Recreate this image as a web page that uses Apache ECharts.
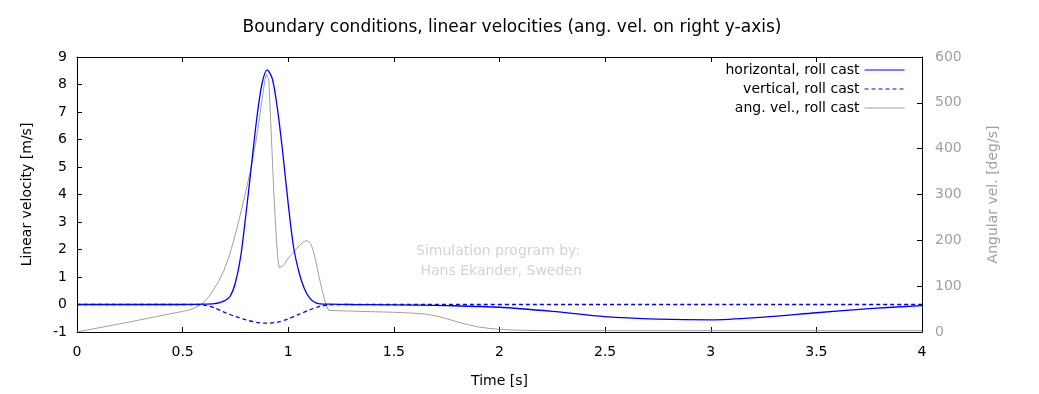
<!DOCTYPE html>
<html>
<head>
<meta charset="utf-8">
<script src="https://cdn.jsdelivr.net/npm/echarts@6/dist/echarts.min.js"></script>
<style>html,body{margin:0;padding:0;background:#fff}#c{width:1039px;height:394px}</style>
</head>
<body>
<div id="c"></div>
<script>
// ---- Data ----
const titleText = 'Boundary conditions, linear velocities (ang. vel. on right y-axis)';
const seriesNames = ['horizontal, roll cast', 'vertical, roll cast', 'ang. vel., roll cast'];

// horizontal linear velocity [m/s]
const tHor = [0, 0.5, 0.6, 0.65, 0.68, 0.7, 0.725, 0.75, 0.775, 0.8, 0.825, 0.85, 0.875, 0.9, 0.925, 0.95, 0.975, 1.0, 1.025, 1.05, 1.075, 1.1, 1.125, 1.15, 1.2, 1.3, 1.5, 1.75, 2.0, 2.25, 2.5, 2.75, 3.0, 3.25, 3.5, 3.75, 4.0];
const vHor = [0, 0, 0.01, 0.03, 0.08, 0.14, 0.3, 0.8, 1.75, 3.3, 5.0, 6.7, 8.0, 8.53, 8.2, 7.05, 5.45, 3.65, 2.1, 1.2, 0.6, 0.25, 0.08, 0.02, 0.01, 0, -0.01, -0.04, -0.1, -0.25, -0.44, -0.53, -0.56, -0.46, -0.3, -0.15, -0.04];

// vertical linear velocity [m/s]
const tVer = [0, 0.55, 0.6, 0.65, 0.7, 0.75, 0.8, 0.85, 0.9, 0.95, 1.0, 1.05, 1.1, 1.15, 1.2, 1.3, 4.0];
const vVer = [0, 0, -0.02, -0.12, -0.29, -0.44, -0.56, -0.65, -0.68, -0.64, -0.52, -0.36, -0.2, -0.07, -0.01, 0, 0];

// angular velocity [deg/s]
const tAng = [0, 0.25, 0.5, 0.53, 0.55, 0.58, 0.6, 0.62, 0.646, 0.67, 0.695, 0.72, 0.745, 0.77, 0.795, 0.82, 0.845, 0.865, 0.88, 0.89, 0.896, 0.902, 0.908, 0.915, 0.923, 0.93, 0.938, 0.945, 0.951, 0.957, 0.965, 0.98, 0.994, 1.015, 1.033, 1.06, 1.081, 1.095, 1.105, 1.112, 1.12, 1.128, 1.136, 1.148, 1.16, 1.172, 1.183, 1.192, 1.2, 1.5, 1.6, 1.65, 1.7, 1.75, 1.8, 1.85, 1.9, 1.95, 2.0, 2.05, 2.13, 2.3, 4.0];
const vAng = [0, 22, 45, 48, 51, 58, 65, 75, 92, 110, 134, 165, 205, 250, 298, 350, 410, 470, 520, 550, 563, 565, 550, 480, 397, 320, 250, 195, 160, 140, 139, 146, 157, 169, 179, 192, 199, 198, 193, 186, 175, 160, 142, 116, 92, 70, 55, 47, 44, 43, 41, 39, 35, 29, 22, 16, 11, 8, 6, 4.5, 3.5, 3, 3];

const watermark = 'Simulation program by:\n Hans Ekander, Sweden';
const xName = 'Time [s]';
const yName = 'Linear velocity [m/s]';
const y2Name = 'Angular vel. [deg/s]';

// ---- Build ----
const zip = (t, v) => t.map((x, i) => [x, v[i]]);
const FONT = 'DejaVu Sans';
const BLUE = '#0000ff';
const GRAY = '#a0a0a0';

const chart = echarts.init(document.getElementById('c'), null, {renderer: 'canvas'});

function legendFor(i, top) {
  return {
    data: [seriesNames[i]],
    right: 134, top: top, orient: 'horizontal', align: 'right',
    itemWidth: 40, itemHeight: 12, padding: 0,
    selectedMode: false,
    itemStyle: {opacity: 0},
    lineStyle: {width: 1},
    textStyle: {fontFamily: FONT, fontSize: 14, color: '#000'}
  };
}

const option = {
  animation: false,
  backgroundColor: '#fff',
  title: {
    text: titleText, left: 512, top: 19, textAlign: 'center', padding: 0,
    textStyle: {fontFamily: FONT, fontSize: 17, fontWeight: 'normal', color: '#000'}
  },
  legend: [legendFor(0, 63), legendFor(1, 82), legendFor(2, 101)],
  grid: {left: 77, right: 117, top: 57, bottom: 62, containLabel: false},
  xAxis: [{
    type: 'value', min: 0, max: 4, interval: 0.5, position: 'bottom',
    name: xName, nameLocation: 'middle', nameGap: 42,
    nameTextStyle: {fontFamily: FONT, fontSize: 14, color: '#000'},
    axisLine: {show: true, onZero: false, lineStyle: {color: '#000', width: 1}},
    axisTick: {show: true, inside: true, length: 5, lineStyle: {color: '#000'}},
    axisLabel: {fontFamily: FONT, fontSize: 14, color: '#000', margin: 13},
    splitLine: {show: false}
  }, {
    type: 'value', min: 0, max: 4, interval: 0.5, position: 'top',
    axisLine: {show: true, onZero: false, lineStyle: {color: '#000', width: 1}},
    axisTick: {show: true, inside: true, length: 5, lineStyle: {color: '#000'}},
    axisLabel: {show: false},
    splitLine: {show: false}
  }],
  yAxis: [{
    type: 'value', min: -1, max: 9, interval: 1, position: 'left',
    name: yName, nameLocation: 'middle', nameGap: 43,
    nameTextStyle: {fontFamily: FONT, fontSize: 14, color: '#000'},
    axisLine: {show: true, onZero: false, lineStyle: {color: '#000', width: 1}},
    axisTick: {show: true, inside: true, length: 5, lineStyle: {color: '#000'}},
    axisLabel: {fontFamily: FONT, fontSize: 14, color: '#000', margin: 10},
    splitLine: {show: false}
  }, {
    type: 'value', min: 0, max: 600, interval: 100, position: 'right',
    name: y2Name, nameLocation: 'middle', nameGap: 64,
    nameTextStyle: {fontFamily: FONT, fontSize: 14, color: GRAY},
    axisLine: {show: true, onZero: false, lineStyle: {color: '#000', width: 1}},
    axisTick: {show: true, inside: true, length: 5, lineStyle: {color: '#000'}},
    axisLabel: {fontFamily: FONT, fontSize: 14, color: GRAY, margin: 13},
    splitLine: {show: false}
  }],
  graphic: [{
    type: 'text', left: 416, top: 241, silent: true,
    style: {text: watermark, fill: '#d3d3d3', font: '14px "DejaVu Sans"', lineHeight: 20}
  }],
  series: [{
    name: seriesNames[0], type: 'line', xAxisIndex: 0, yAxisIndex: 0,
    data: zip(tHor, vHor), showSymbol: false, symbol: 'none', smooth: 0.3,
    lineStyle: {color: BLUE, width: 1.3}, itemStyle: {color: BLUE}, z: 3
  }, {
    name: seriesNames[1], type: 'line', xAxisIndex: 0, yAxisIndex: 0,
    data: zip(tVer, vVer), showSymbol: false, symbol: 'none', smooth: 0.3,
    lineStyle: {color: BLUE, width: 1.3, type: [4, 3]}, itemStyle: {color: BLUE}, z: 3
  }, {
    name: seriesNames[2], type: 'line', xAxisIndex: 0, yAxisIndex: 1,
    data: zip(tAng, vAng), showSymbol: false, symbol: 'none', smooth: false,
    lineStyle: {color: GRAY, width: 1}, itemStyle: {color: GRAY}, z: 2
  }]
};
chart.setOption(option);
</script>
</body>
</html>
